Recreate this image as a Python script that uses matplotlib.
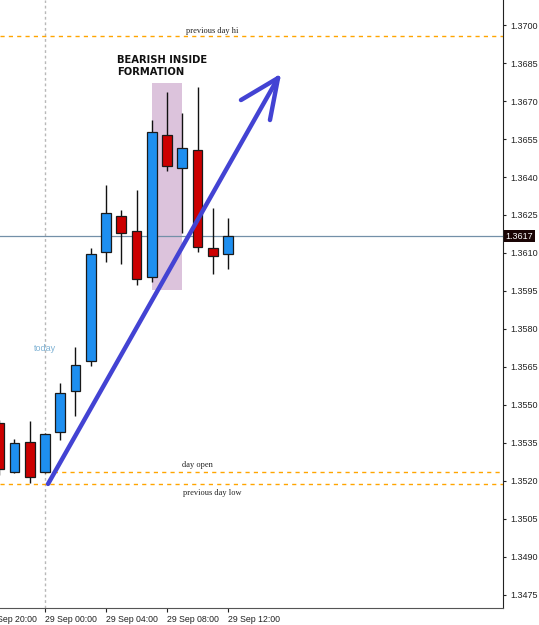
import matplotlib.pyplot as plt
from matplotlib.patches import Rectangle
from matplotlib.transforms import blended_transform_factory
import numpy as np

# hourly candles, hour 0 = 29 Sep 00:00
hours = [-3, -2, -1, 0, 1, 2, 3, 4, 5, 6, 7, 8, 9, 10, 11, 12]
opens = [1.35429, 1.35235, 1.35354, 1.35235, 1.35393, 1.35555, 1.35673, 1.36104,
         1.36246, 1.36187, 1.36005, 1.36566, 1.36435, 1.36507, 1.36120, 1.36096]
highs = [1.35441, 1.35366, 1.35437, 1.35388, 1.35587, 1.35729, 1.36120, 1.36368,
         1.36270, 1.36349, 1.36625, 1.36735, 1.36653, 1.36755, 1.36278, 1.36238]
lows = [1.35223, 1.35232, 1.35192, 1.35232, 1.35362, 1.35456, 1.35654, 1.36064,
        1.36056, 1.35974, 1.35985, 1.36424, 1.36179, 1.36104, 1.36017, 1.36037]
closes = [1.35247, 1.35350, 1.35216, 1.35385, 1.35547, 1.35658, 1.36096, 1.36258,
          1.36179, 1.35997, 1.36578, 1.36443, 1.36514, 1.36124, 1.36088, 1.36167]

prev_day_hi = 1.36957
day_open = 1.35235
prev_day_low = 1.35188
last_price = 1.36167

y_ticks = [1.3475, 1.3490, 1.3505, 1.3520, 1.3535, 1.3550, 1.3565, 1.3580, 1.3595,
           1.3610, 1.3625, 1.3640, 1.3655, 1.3670, 1.3685, 1.3700]
x_ticks = [-4, 0, 4, 8, 12]
x_labels = ["28 Sep 20:00", "29 Sep 00:00", "29 Sep 04:00", "29 Sep 08:00", "29 Sep 12:00"]

# inside bar box and drawn arrow (hours, price)
box_x = [7.0, 9.0]
box_y = [1.35954, 1.36771]
arrow_start = [0.2, 1.35188]
arrow_tip = [15.28, 1.36791]
arrow_wings = [[12.85, 1.36704], [14.75, 1.36625]]

plt.rcParams['font.family'] = ['Liberation Sans', 'DejaVu Sans']

fig = plt.figure(figsize=(5.39, 6.25), dpi=100)
ax = fig.add_axes([0, 17/625, 503/539, 608/625])

# highlight box
ax.add_patch(Rectangle((box_x[0], box_y[0]), box_x[1]-box_x[0], box_y[1]-box_y[0],
                       facecolor='#dcc3dc', edgecolor='none', zorder=0))

# day separator
ax.axvline(0, color='#b8b8b8', ls=(0, (2, 2)), lw=1, zorder=1)

# levels
ax.axhline(prev_day_hi, color='#ffa500', ls=(0, (3, 3)), lw=1, zorder=1)
ax.axhline(prev_day_low, color='#ffa500', ls=(0, (3, 3)), lw=1, zorder=1)
ax.hlines(day_open, 0, 30.03, color='#ffa500', ls=(0, (3, 3)), lw=1, zorder=1)
ax.axhline(last_price, color='#7390a8', lw=0.9, zorder=1)

# candles
w = 0.65
for h, o, hi, lo, c in zip(hours, opens, highs, lows, closes):
    ax.vlines(h, lo, hi, color='#111111', lw=1, zorder=2)
    col = '#1e8ff0' if c >= o else '#cc0000'
    ax.add_patch(Rectangle((h - w/2, min(o, c)), w, abs(c - o),
                           facecolor=col, edgecolor='#1a1a1a', lw=0.9, zorder=3))

# arrow
acol = '#4343d3'
ax.plot([arrow_start[0], arrow_tip[0]], [arrow_start[1], arrow_tip[1]],
        color=acol, lw=3.2, solid_capstyle='round', zorder=4)
for wx, wy in arrow_wings:
    ax.plot([wx, arrow_tip[0]], [wy, arrow_tip[1]], color=acol, lw=3.2,
            solid_capstyle='round', zorder=4)

# texts
ax.text(10.95, prev_day_hi + 0.00004, "previous day hi", fontsize=6, family='Liberation Serif',
        color='#222222', ha='center', va='bottom')
ax.text(9.97, day_open + 0.00012, "day open", fontsize=6, family='Liberation Serif',
        color='#222222', ha='center', va='bottom')
ax.text(10.95, prev_day_low - 0.00022, "previous day low", fontsize=6, family='Liberation Serif',
        color='#222222', ha='center', va='top')
ax.text(0, 1.35721, "today", fontsize=6.5, color='#7fb2d4', ha='center', va='center')
ax.text(4.7, 1.36880, "BEARISH INSIDE\nFORMATION", fontsize=7.2, fontweight='bold',
        family='DejaVu Sans', color='#111111', ha='left', va='top', linespacing=1.15)

# axes styling
for s in ['left', 'top']:
    ax.spines[s].set_visible(False)
ax.spines['right'].set_color('#222222')
ax.spines['bottom'].set_color('#555555')
ax.yaxis.tick_right()
ax.set_yticks(y_ticks)
ax.set_yticklabels([f"{v:.4f}" for v in y_ticks])
ax.tick_params(axis='y', length=2, pad=3, labelsize=6.5, colors='#222222')
ax.set_xticks(x_ticks)
ax.set_xticklabels(x_labels, ha='left')
ax.tick_params(axis='x', length=3, pad=2, labelsize=6.3, colors='#222222')
ax.set_xlim(-2.95, 30.03)
ax.set_ylim(1.34698, 1.37099)

# first label sits left of the visible range (cut by the edge, as in the source)
trx = blended_transform_factory(ax.transData, ax.transAxes)
ax.text(x_ticks[0] + 0.05, -0.0118, x_labels[0], transform=trx, fontsize=6.3,
        color='#222222', ha='left', va='top', clip_on=False)

# current price label
tr = blended_transform_factory(ax.transAxes, ax.transData)
ax.text(1.005, last_price, "1.3617", transform=tr, fontsize=6.5, color='white',
        ha='left', va='center',
        bbox=dict(boxstyle='square,pad=0.2', facecolor='#1a0505', edgecolor='none'))

fig.savefig('out.png', dpi=100)
